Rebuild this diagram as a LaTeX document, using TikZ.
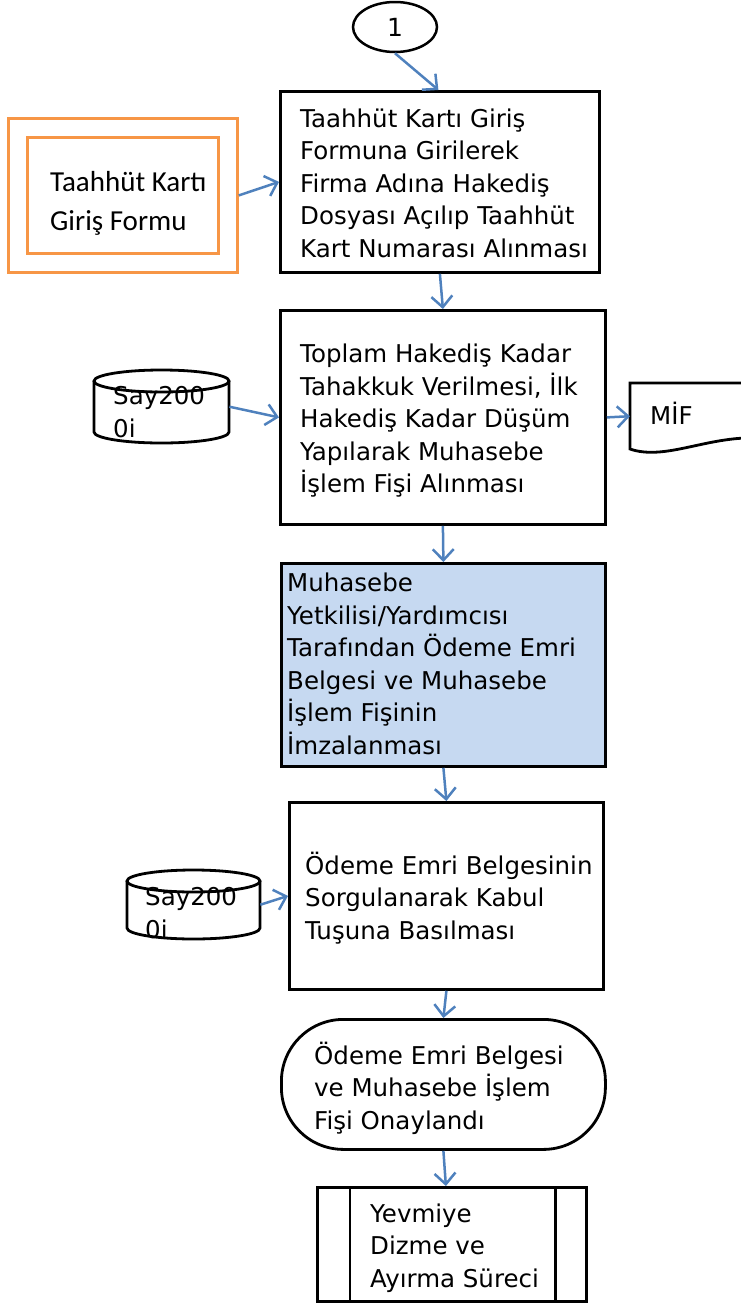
\documentclass[tikz,border=0pt]{standalone}
\usepackage{fontspec}
\setmainfont{DejaVu Sans}
\newfontfamily\calib{Carlito}
\usetikzlibrary{shapes.geometric,arrows.meta}
\definecolor{arrblue}{HTML}{4F81BD}
\definecolor{boxblue}{HTML}{C6D9F1}
\definecolor{formorange}{HTML}{F79646}
\begin{document}
\begin{tikzpicture}[x=1pt,y=-1pt,
  box/.style={draw=black, line width=2.8pt, rectangle, anchor=north west, inner sep=0pt},
  form/.style={draw=formorange, line width=2.8pt, rectangle, anchor=north west},
  arr/.style={draw=arrblue, line width=2.5pt, -{Straight Barb[length=11pt,width=21pt]}},
  shp/.style={draw=black, line width=2.8pt},
  anchorbox/.style={rectangle, anchor=north west, inner sep=0pt},
  lbl/.style={anchor=west, align=left, inner sep=0pt, font=\fontsize{24.5}{32.5}\selectfont}
]
\useasboundingbox (0,0) rectangle (740,1304);

% start connector
\node[ellipse, draw=black, line width=2.5pt, minimum width=84pt, minimum height=50pt, inner sep=0pt, font=\fontsize{25}{28}\selectfont] (c1) at (395,27) {1};

% box 1
\node[box, minimum width=319pt, minimum height=181pt] (b1) at (279,90) {};
\node[lbl] (b1t) at (300,183)
  {Taahhüt Kartı Giriş\\Formuna Girilerek\\Firma Adına Hakediş\\Dosyası Açılıp Taahhüt\\Kart Numarası Alınması};

% form
\node[form, minimum width=229pt, minimum height=154pt] (f1) at (7,117) {};
\node[form, minimum width=191pt, minimum height=116pt] (f1i) at (26,136) {};
\node[anchor=west, align=left, inner sep=0pt, font=\calib\fontsize{29}{39}\selectfont] (f1t) at (50,203) {Taahhüt Kartı\\Giriş Formu};

% box 2
\node[box, minimum width=325pt, minimum height=214pt] (b2) at (279,309) {};
\node[lbl] (b2t) at (300,421)
  {Toplam Hakediş Kadar\\Tahakkuk Verilmesi, İlk\\Hakediş Kadar Düşüm\\Yapılarak Muhasebe\\İşlem Fişi Alınması};

% cylinder 1
\node[anchorbox, minimum width=135pt, minimum height=73pt] (cy1) at (94,370) {};
\draw[shp] (161.5,381) ellipse [x radius=67.5, y radius=11];
\draw[shp] (94,381) -- (94,432) arc[start angle=180, end angle=0, x radius=67.5, y radius=11] -- (229,381);
\node[lbl] (cy1t) at (113,412) {Say200\\0i};

% MIF document
\node[anchorbox, minimum width=110pt, minimum height=66pt] (mif) at (630,383) {};
\draw[shp] (745,383) -- (630,383) -- (630,449) .. controls (662,460) and (700,440) .. (745,438);
\node[lbl] (mift) at (650,413) {MİF};

% box 3
\node[box, fill=boxblue, minimum width=324pt, minimum height=203pt] (b3) at (280,562) {};
\node[lbl] (b3t) at (287,664)
  {Muhasebe\\Yetkilisi/Yardımcısı\\Tarafından Ödeme Emri\\Belgesi ve Muhasebe\\İşlem Fişinin\\İmzalanması};

% box 4
\node[box, minimum width=314pt, minimum height=187pt] (b4) at (288,801) {};
\node[lbl] (b4t) at (305,898)
  {Ödeme Emri Belgesinin\\Sorgulanarak Kabul\\Tuşuna Basılması};

% cylinder 2
\node[anchorbox, minimum width=133pt, minimum height=69pt] (cy2) at (127,870) {};
\draw[shp] (193.5,881) ellipse [x radius=66.5, y radius=11];
\draw[shp] (127,881) -- (127,928) arc[start angle=180, end angle=0, x radius=66.5, y radius=11] -- (260,881);
\node[lbl] (cy2t) at (145,913) {Say200\\0i};

% terminal
\node[box, rounded corners=62pt, minimum width=324pt, minimum height=130pt] (t1) at (280,1018) {};
\node[lbl] (t1t) at (314,1088)
  {Ödeme Emri Belgesi\\ve Muhasebe İşlem\\Fişi Onaylandı};

% predefined process
\node[box, minimum width=269pt, minimum height=114pt] (pp) at (316,1186) {};
\draw[shp] ([xshift=34pt]pp.north west) -- ([xshift=34pt]pp.south west);
\draw[shp] ([xshift=-32pt]pp.north east) -- ([xshift=-32pt]pp.south east);
\node[lbl] (ppt) at (370,1248) {Yevmiye\\Dizme ve\\Ayırma Süreci};

% connectors
\draw[arr] (c1.south) -- ([xshift=-1.5pt]b1.north);
\draw[arr] (f1.east) -- (b1.west);
\draw[arr] (b1.south) -- (b2.north);
\draw[arr] (cy1.east) -- (b2.west);
\draw[arr] (b2.east) -- (mif.west);
\draw[arr] (b2.south) -- (b3.north);
\draw[arr] (b3.south) -- (b4.north);
\draw[arr] (cy2.east) -- (b4.west);
\draw[arr] (b4.south) -- (t1.north);
\draw[arr] (t1.south) -- ([xshift=-6pt]pp.north);
\end{tikzpicture}
\end{document}
